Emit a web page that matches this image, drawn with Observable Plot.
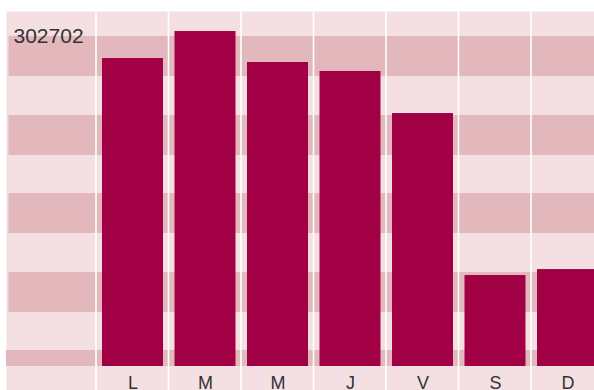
<!DOCTYPE html>
<html>
<head>
<meta charset="utf-8">
<script src="https://cdn.jsdelivr.net/npm/d3@7"></script>
<script src="https://cdn.jsdelivr.net/npm/@observablehq/plot@0.6"></script>
<style>
  html, body { margin: 0; padding: 0; background: #fff; overflow: hidden; }
  #chart svg { overflow: hidden; display: block; }
</style>
</head>
<body>
<div id="chart"></div>
<script>
// Data
const dayLabels = ["L", "M", "M", "J", "V", "S", "D"];
const dayValues = [278300, 302702, 274700, 266600, 228600, 82200, 87600];
// Background stripe bands (value units)
const stripeLow = [0, 48800, 120200, 190700, 262000];
const stripeHigh = [14500, 84900, 156300, 226800, 298200];

const idx = dayLabels.map((_, i) => i);
const rows = idx.map(i => ({i, label: dayLabels[i], value: dayValues[i]}));
const stripes = stripeLow.map((lo, k) => ({lo, hi: stripeHigh[k]}));

const light = "#f4e0e2";
const dark = "#e3b8bd";
const barColor = "#a10044";

const chart = Plot.plot({
  width: 594,
  height: 390,
  marginTop: 11,
  marginBottom: 0,
  marginLeft: 6,
  marginRight: 0,
  style: {fontFamily: "'Liberation Sans', Arial, sans-serif", background: "transparent"},
  x: {type: "band", domain: idx, range: [96.25, 603.75], paddingInner: 0.1586, paddingOuter: 0.0793, round: false, axis: null},
  y: {domain: [0, 320800], range: [366, 11], axis: null},
  marks: [
    Plot.frame({fill: light, stroke: null}),
    Plot.rectY(stripes.slice(0, 1), {y1: "lo", y2: "hi", fill: dark}),
    Plot.rectY(stripes.slice(1), {y1: "lo", y2: "hi", fill: dark, insetLeft: 2.5}),
    Plot.ruleX(idx, {x: d => d, dx: -37, stroke: "#ffffff", strokeWidth: 1.6}),
    Plot.barY(rows, {x: "i", y: "value", fill: barColor}),
    Plot.text(rows, {x: "i", y: 0, text: "label", dy: 16.5, fontSize: 18, fill: "#333"}),
    Plot.text([d3.max(dayValues)], {text: d => String(d), frameAnchor: "top-left", textAnchor: "start", lineAnchor: "top", dx: 7, dy: 16.8, fontSize: 21, fill: "#333"})
  ]
});
document.getElementById("chart").append(chart);
</script>
</body>
</html>
